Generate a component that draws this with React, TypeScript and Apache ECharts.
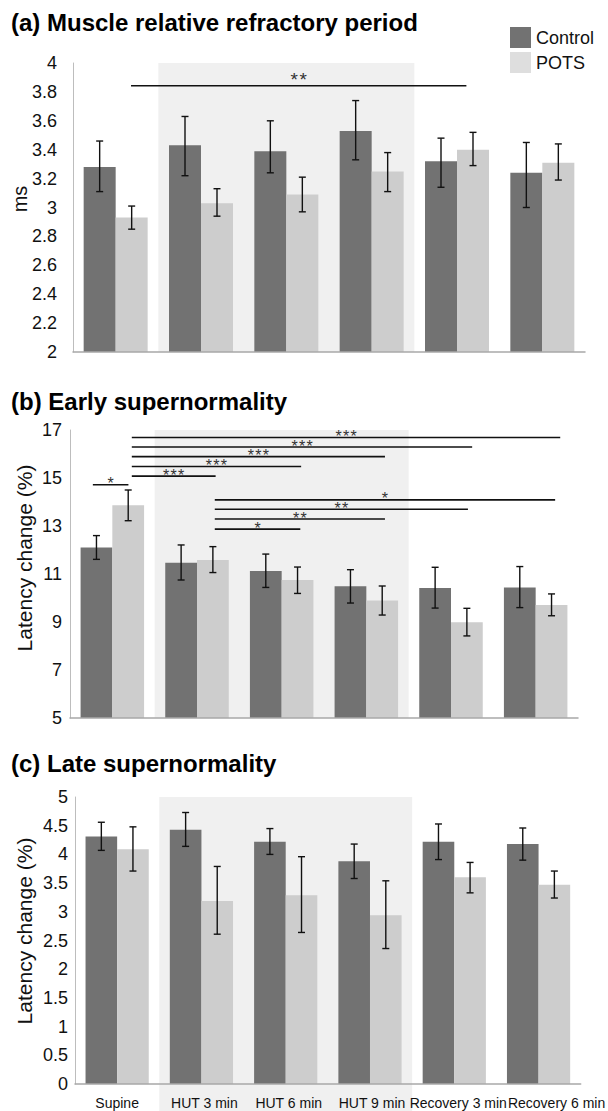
import React, { useEffect, useRef } from 'react';
import * as echarts from 'echarts';

// ---------- data ----------
const categories = ['Supine', 'HUT 3 min', 'HUT 6 min', 'HUT 9 min', 'Recovery 3 min', 'Recovery 6 min'];
const groupNames = ['Control', 'POTS'];
const tiltRange = [1, 4]; // HUT 3 min .. HUT 9 min (category positions)

// (a) Muscle relative refractory period (ms)
const rrpControl = [3.28, 3.43, 3.39, 3.53, 3.32, 3.24];
const rrpControlLow = [3.11, 3.22, 3.24, 3.33, 3.14, 3.0];
const rrpControlHigh = [3.46, 3.63, 3.6, 3.74, 3.48, 3.45];
const rrpPots = [2.93, 3.03, 3.09, 3.25, 3.4, 3.31];
const rrpPotsLow = [2.85, 2.94, 2.97, 3.11, 3.29, 3.19];
const rrpPotsHigh = [3.01, 3.13, 3.21, 3.38, 3.52, 3.44];
const rrpSig = [[0.68, 4.61, 3.843, '**']];

// (b) Early supernormality (%)
const earlyControl = [12.1, 11.47, 11.12, 10.49, 10.42, 10.44];
const earlyControlLow = [11.61, 10.75, 10.44, 9.79, 9.58, 9.6];
const earlyControlHigh = [12.6, 12.21, 11.83, 11.18, 11.28, 11.31];
const earlyPots = [13.86, 11.58, 10.75, 9.9, 8.99, 9.71];
const earlyPotsLow = [13.22, 11.06, 10.19, 9.29, 8.42, 9.26];
const earlyPotsHigh = [14.5, 12.14, 11.29, 10.5, 9.57, 10.17];
const earlySig = [
  [0.27, 0.69, 14.72, '*'],
  [0.73, 1.72, 15.08, '***'],
  [0.73, 2.73, 15.48, '***'],
  [0.73, 3.72, 15.89, '***'],
  [0.73, 4.75, 16.29, '***'],
  [0.73, 5.79, 16.69, '***'],
  [1.71, 2.72, 12.87, '*'],
  [1.71, 3.72, 13.29, '**'],
  [1.71, 4.7, 13.7, '**'],
  [1.71, 5.73, 14.09, '*'],
];

// (c) Late supernormality (%)
const lateControl = [4.31, 4.43, 4.22, 3.88, 4.22, 4.18];
const lateControlLow = [4.07, 4.14, 4.0, 3.58, 3.91, 3.9];
const lateControlHigh = [4.56, 4.73, 4.45, 4.18, 4.53, 4.46];
const latePots = [4.09, 3.19, 3.29, 2.94, 3.6, 3.47];
const latePotsLow = [3.71, 2.61, 2.64, 2.36, 3.33, 3.24];
const latePotsHigh = [4.48, 3.79, 3.96, 3.54, 3.86, 3.71];
const lateSig: any[] = [];

const titles = ['(a) Muscle relative refractory period', '(b) Early supernormality', '(c) Late supernormality'];
const yNames = ['ms', 'Latency change (%)', 'Latency change (%)'];
const yMins = [2, 5, 0];
const yMaxs = [4, 17, 5];
const yIntervals = [0.2, 2, 0.5];

// ---------- style / layout ----------
const FONT = '"Liberation Sans", Arial, Helvetica, sans-serif';
const DARK = '#727272';
const LIGHT = '#cdcdcd';
const SHADE = '#f0f0f0';

const panels = [
  {
    control: rrpControl, controlLow: rrpControlLow, controlHigh: rrpControlHigh,
    pots: rrpPots, potsLow: rrpPotsLow, potsHigh: rrpPotsHigh, sig: rrpSig,
    grid: { left: 73, top: 63, width: 512, height: 289 },
    titleTop: 10, labelMargin: 16, name: { x: 20, y: 199, size: 20 }, showLabels: false, shadeExtra: 0,
    star: { size: 19, pitch: 9, lift: 6 },
  },
  {
    control: earlyControl, controlLow: earlyControlLow, controlHigh: earlyControlHigh,
    pots: earlyPots, potsLow: earlyPotsLow, potsHigh: earlyPotsHigh, sig: earlySig,
    grid: { left: 70, top: 430, width: 508, height: 288 },
    titleTop: 389, labelMargin: 8, name: { x: 24, y: 558, size: 21 }, showLabels: false, shadeExtra: 0,
    star: { size: 16, pitch: 7.5, lift: 1 },
  },
  {
    control: lateControl, controlLow: lateControlLow, controlHigh: lateControlHigh,
    pots: latePots, potsLow: latePotsLow, potsHigh: latePotsHigh, sig: lateSig,
    grid: { left: 75, top: 797, width: 508, height: 287 },
    titleTop: 751, labelMargin: 7, name: { x: 24, y: 931, size: 21 }, showLabels: true, shadeExtra: 27,
    star: { size: 16, pitch: 7.5, lift: 1 },
  },
];

const labelShift = [0, 3, 3, 2, 4, 18];

function buildOption() {
  const grid: any[] = [];
  const xAxis: any[] = [];
  const yAxis: any[] = [];
  const series: any[] = [];
  const title: any[] = [];
  const graphic: any[] = [];

  const rich: any = {};
  labelShift.forEach((s, i) => {
    rich['c' + i] = { fontSize: 14, fontFamily: FONT, color: '#111', padding: [0, 0, 0, 2 * s] };
  });

  panels.forEach((p, i) => {
    grid.push({ ...p.grid, containLabel: false });
    title.push({
      text: titles[i], left: 11, top: p.titleTop, padding: 0,
      textStyle: { fontSize: 24, fontWeight: 'bold', fontFamily: FONT, color: '#000' },
    });
    xAxis.push({
      type: 'category', gridIndex: i, data: categories, z: 3,
      axisLine: { show: true, lineStyle: { color: '#a8a8a8', width: 1.5 } },
      axisTick: { show: false },
      splitLine: { show: false },
      axisLabel: {
        show: p.showLabels, interval: 0, hideOverlap: false, margin: 12,
        formatter: (v: string, idx: number) => `{c${idx}|${v}}`,
        rich,
      },
    });
    xAxis.push({ type: 'value', gridIndex: i, min: 0, max: 6, show: false });
    yAxis.push({
      type: 'value', gridIndex: i, min: yMins[i], max: yMaxs[i], interval: yIntervals[i], z: 3,
      axisLine: { show: true, lineStyle: { color: '#bdbdbd', width: 1 } },
      axisTick: { show: false },
      splitLine: { show: false },
      axisLabel: { margin: p.labelMargin, fontSize: 18, fontFamily: FONT, color: '#111' },
    });

    const catAx = 2 * i;
    const valAx = 2 * i + 1;

    // shaded tilt period
    const yMin = yMins[i];
    const yMax = yMaxs[i];
    const extra = p.shadeExtra;
    series.push({
      type: 'custom', xAxisIndex: valAx, yAxisIndex: i, z: 0, clip: false, silent: true,
      data: [[tiltRange[0], tiltRange[1]]],
      encode: { x: [0, 1] },
      renderItem: (params: any, api: any) => {
        const a = api.coord([api.value(0), yMax]);
        const b = api.coord([api.value(1), yMin]);
        return {
          type: 'rect',
          shape: { x: a[0], y: a[1], width: b[0] - a[0], height: b[1] - a[1] + extra },
          style: { fill: SHADE },
        };
      },
    });

    // bars
    series.push({
      name: groupNames[0], type: 'bar', xAxisIndex: catAx, yAxisIndex: i, z: 2,
      data: p.control, barGap: '0%', barCategoryGap: '25%',
      itemStyle: { color: DARK },
    });
    series.push({
      name: groupNames[1], type: 'bar', xAxisIndex: catAx, yAxisIndex: i, z: 2,
      data: p.pots, barGap: '0%', barCategoryGap: '25%',
      itemStyle: { color: LIGHT },
    });

    // error bars (centres of the two bars in each category)
    const errData: any[] = [];
    categories.forEach((_, k) => {
      errData.push([k + 0.3125, p.controlLow[k], p.controlHigh[k]]);
      errData.push([k + 0.6875, p.potsLow[k], p.potsHigh[k]]);
    });
    series.push({
      type: 'custom', xAxisIndex: valAx, yAxisIndex: i, z: 4, silent: true,
      data: errData,
      encode: { x: 0, y: [1, 2] },
      renderItem: (params: any, api: any) => {
        const x = api.value(0);
        const lo = api.coord([x, api.value(1)]);
        const hi = api.coord([x, api.value(2)]);
        const hw = 3.5;
        const st = { stroke: '#111', lineWidth: 1.4 };
        return {
          type: 'group',
          children: [
            { type: 'line', shape: { x1: lo[0], y1: lo[1], x2: hi[0], y2: hi[1] }, style: st },
            { type: 'line', shape: { x1: lo[0] - hw, y1: lo[1], x2: lo[0] + hw, y2: lo[1] }, style: st },
            { type: 'line', shape: { x1: hi[0] - hw, y1: hi[1], x2: hi[0] + hw, y2: hi[1] }, style: st },
          ],
        };
      },
    });

    // significance lines
    if (p.sig.length) {
      const st = p.star;
      series.push({
        type: 'custom', xAxisIndex: valAx, yAxisIndex: i, z: 5, silent: true, clip: false,
        data: p.sig,
        encode: { x: [0, 1], y: 2 },
        renderItem: (params: any, api: any) => {
          const y = api.value(2);
          const a = api.coord([api.value(0), y]);
          const b = api.coord([api.value(1), y]);
          const label: string = p.sig[params.dataIndex][3];
          const stars = label.split('');
          const cx = (a[0] + b[0]) / 2;
          const children: any[] = [
            { type: 'line', shape: { x1: a[0], y1: a[1], x2: b[0], y2: b[1] }, style: { stroke: '#111', lineWidth: 1.6 } },
          ];
          stars.forEach((s, k) => {
            children.push({
              type: 'text', x: cx + (k - (stars.length - 1) / 2) * st.pitch, y: a[1] - st.lift,
              style: {
                text: s, fill: '#333', fontSize: st.size, fontFamily: FONT,
                textAlign: 'center', textVerticalAlign: 'middle', align: 'center', verticalAlign: 'middle',
              },
            });
          });
          return { type: 'group', children };
        },
      });
    }

    graphic.push({
      type: 'text', x: p.name.x, y: p.name.y, rotation: Math.PI / 2,
      style: {
        text: yNames[i], fill: '#111', fontSize: p.name.size, fontFamily: FONT,
        textAlign: 'center', textVerticalAlign: 'middle', align: 'center', verticalAlign: 'middle',
      },
    });
  });

  return {
    animation: false,
    backgroundColor: '#ffffff',
    title,
    legend: {
      orient: 'vertical', left: 510, top: 27, padding: 0,
      itemWidth: 21, itemHeight: 21, itemGap: 4, icon: 'rect',
      selectedMode: false,
      textStyle: { fontSize: 18, fontFamily: FONT, color: '#111' },
      data: [
        { name: groupNames[0], itemStyle: { color: DARK } },
        { name: groupNames[1], itemStyle: { color: '#dedede' } },
      ],
    },
    grid,
    xAxis,
    yAxis,
    series,
    graphic,
  };
}

export default function App() {
  const ref = useRef<HTMLDivElement>(null);
  useEffect(() => {
    if (!ref.current) return;
    const chart = echarts.init(ref.current, undefined, { renderer: 'svg' });
    chart.setOption(buildOption() as any);
    return () => chart.dispose();
  }, []);
  return (
    <div
      ref={ref}
      style={{ position: 'absolute', left: 0, top: 0, width: 608, height: 1111, background: '#fff' }}
    />
  );
}
